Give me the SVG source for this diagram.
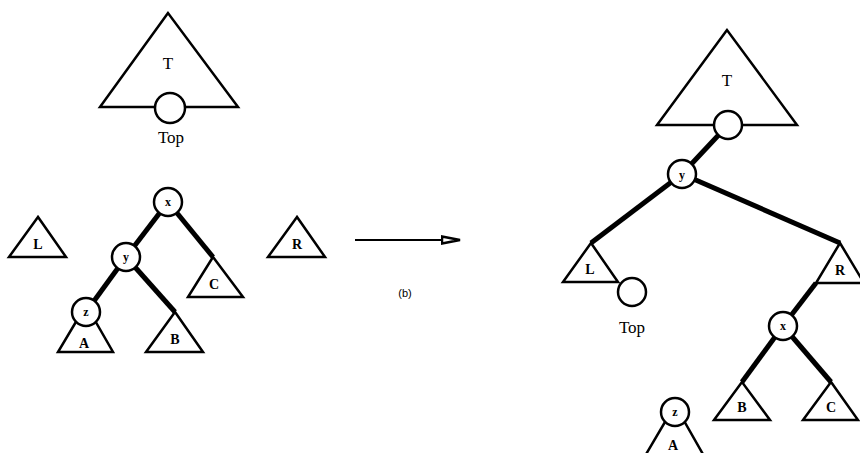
<svg xmlns="http://www.w3.org/2000/svg" width="860" height="453" viewBox="0 0 860 453">
<defs>
<style>
.edge{stroke:#000;stroke-width:5;stroke-linecap:butt;fill:none}
.tri{fill:#fff;stroke:#000;stroke-width:2.5;stroke-linejoin:miter}
.nd{fill:#fff;stroke:#000;stroke-width:2.5}
.lbl{font-family:"Liberation Serif","Times New Roman",serif;fill:#000;text-anchor:middle}
.big{font-size:17px}
.sm{font-size:14px;font-weight:bold}
.xs{font-size:12px;font-weight:bold}
.cap{font-family:"Liberation Sans",Arial,sans-serif;font-size:11px;fill:#000;text-anchor:middle}
</style>
<marker id="open" viewBox="0 0 20 10" refX="19" refY="5" markerWidth="20" markerHeight="10" markerUnits="userSpaceOnUse" orient="auto">
<path d="M1,1.5 L19,5 L1,8.5 Z" fill="#fff" stroke="#000" stroke-width="2.5"/>
</marker>
</defs>
<rect width="860" height="453" fill="#fff"/>
<g id="connectors">
<line class="edge" x1="168" y1="202" x2="126" y2="257"/>
<line class="edge" x1="168" y1="202" x2="213" y2="257"/>
<line class="edge" x1="126" y1="257" x2="86" y2="312"/>
<line class="edge" x1="126" y1="257" x2="175" y2="312"/>
<line class="edge" x1="728" y1="125" x2="682" y2="174"/>
<line class="edge" x1="682" y1="174" x2="591" y2="243"/>
<line class="edge" x1="682" y1="174" x2="840" y2="243"/>
<line class="edge" x1="816" y1="283" x2="783" y2="326"/>
<line class="edge" x1="783" y1="326" x2="742" y2="382"/>
<line class="edge" x1="783" y1="326" x2="831" y2="382"/>
<line x1="355" y1="240" x2="460" y2="240" stroke="#000" stroke-width="2" marker-end="url(#open)"/>
</g>
<g id="T-left">
<polygon class="tri" points="168,13 100,107 238,107"/>
<text class="lbl big" x="168" y="69">T</text>
</g>
<g id="Top-left">
<circle class="nd" cx="170" cy="108" r="15"/>
<text class="lbl big" x="171" y="143">Top</text>
</g>
<g id="L-left">
<polygon class="tri" points="38,217 9,257 66,257"/>
<text class="lbl sm" x="38" y="249">L</text>
</g>
<g id="R-left">
<polygon class="tri" points="297,217 268,257 325,257"/>
<text class="lbl sm" x="297" y="249">R</text>
</g>
<g id="C-left">
<polygon class="tri" points="213,257 188,297 243,297"/>
<text class="lbl sm" x="214" y="289">C</text>
</g>
<g id="B-left">
<polygon class="tri" points="175,312 146,352 203,352"/>
<text class="lbl sm" x="175" y="344">B</text>
</g>
<g id="A-left">
<polygon class="tri" points="86,305 58,352 113,352"/>
<text class="lbl sm" x="84" y="348">A</text>
</g>
<g id="x-left">
<circle class="nd" cx="168" cy="202" r="14"/>
<text class="lbl xs" x="168" y="206">x</text>
</g>
<g id="y-left">
<circle class="nd" cx="126" cy="257" r="14"/>
<text class="lbl xs" x="126" y="261">y</text>
</g>
<g id="z-left">
<circle class="nd" cx="86" cy="312" r="14"/>
<text class="lbl xs" x="86" y="316">z</text>
</g>
<g id="label-b">
<text class="cap" x="405" y="297">(b)</text>
</g>
<g id="T-right">
<polygon class="tri" points="727,30 657,125 797,125"/>
<text class="lbl big" x="727" y="86">T</text>
</g>
<g id="Top-circle-right">
<circle class="nd" cx="728" cy="125" r="14"/>
</g>
<g id="y-right">
<circle class="nd" cx="682" cy="174" r="14"/>
<text class="lbl xs" x="682" y="179">y</text>
</g>
<g id="L-right">
<polygon class="tri" points="591,243 563,282 618,282"/>
<text class="lbl sm" x="590" y="274">L</text>
</g>
<g id="Top-right">
<circle class="nd" cx="632" cy="292" r="14"/>
<text class="lbl big" x="632" y="333">Top</text>
</g>
<g id="R-right">
<polygon class="tri" points="840,243 816,283 864,283"/>
<text class="lbl sm" x="840" y="275">R</text>
</g>
<g id="x-right">
<circle class="nd" cx="783" cy="326" r="14"/>
<text class="lbl xs" x="783" y="330">x</text>
</g>
<g id="B-right">
<polygon class="tri" points="742,382 714,420 770,420"/>
<text class="lbl sm" x="742" y="412">B</text>
</g>
<g id="C-right">
<polygon class="tri" points="831,382 803,420 858,420"/>
<text class="lbl sm" x="831" y="412">C</text>
</g>
<g id="A-right">
<polygon class="tri" points="675,405 645,456 704,456"/>
<text class="lbl sm" x="673" y="450">A</text>
</g>
<g id="z-right">
<circle class="nd" cx="675" cy="412" r="14"/>
<text class="lbl xs" x="675" y="416">z</text>
</g>
</svg>
